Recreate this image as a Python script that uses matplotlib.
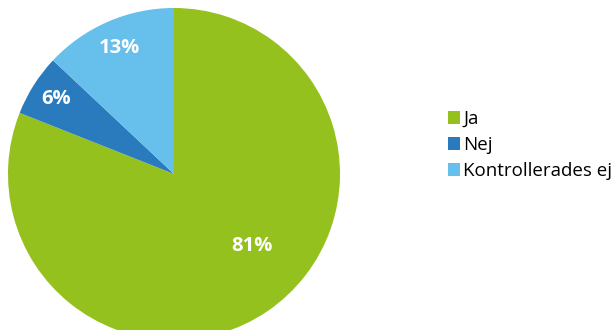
import numpy as np
import matplotlib.pyplot as plt
from matplotlib.patches import Patch

categories = ["Ja", "Nej", "Kontrollerades ej"]
shares = [81, 6, 13]
colors = ["#95C11F", "#2A7BBD", "#67BFEB"]

plt.rcParams['font.family'] = ['Open Sans', 'DejaVu Sans']

fig = plt.figure(figsize=(6.14, 3.30), dpi=100)
# pie axes: 332 px square, runs a little past the bottom edge
ax = fig.add_axes([8 / 614, -10 / 330, 332 / 614, 332 / 330])
wedges, _ = ax.pie(shares, colors=colors, startangle=90, counterclock=False,
                   radius=1.0, wedgeprops=dict(linewidth=0))
ax.set_xlim(-1, 1)
ax.set_ylim(-1, 1)
ax.set_aspect('equal')
ax.axis('off')

# percent labels (angle in degrees, distance from centre)
label_pos = [(-43, 0.64), (147.6, 0.84), (113.4, 0.83)]
for val, (ang, d) in zip(shares, label_pos):
    a = np.deg2rad(ang)
    ax.text(d * np.cos(a), d * np.sin(a), f"{val}%", color="white",
            fontsize=14.5, fontweight="bold", ha="center", va="center")

handles = [Patch(facecolor=c, edgecolor='none') for c in colors]
fig.legend(handles, categories, loc="center left",
           bbox_to_anchor=(440 / 614, 1 - 145 / 330), frameon=False,
           fontsize=13.5, handlelength=0.65, handleheight=0.65,
           handletextpad=0.2, labelspacing=0.42, borderaxespad=0)

fig.savefig("out.png", dpi=100)
